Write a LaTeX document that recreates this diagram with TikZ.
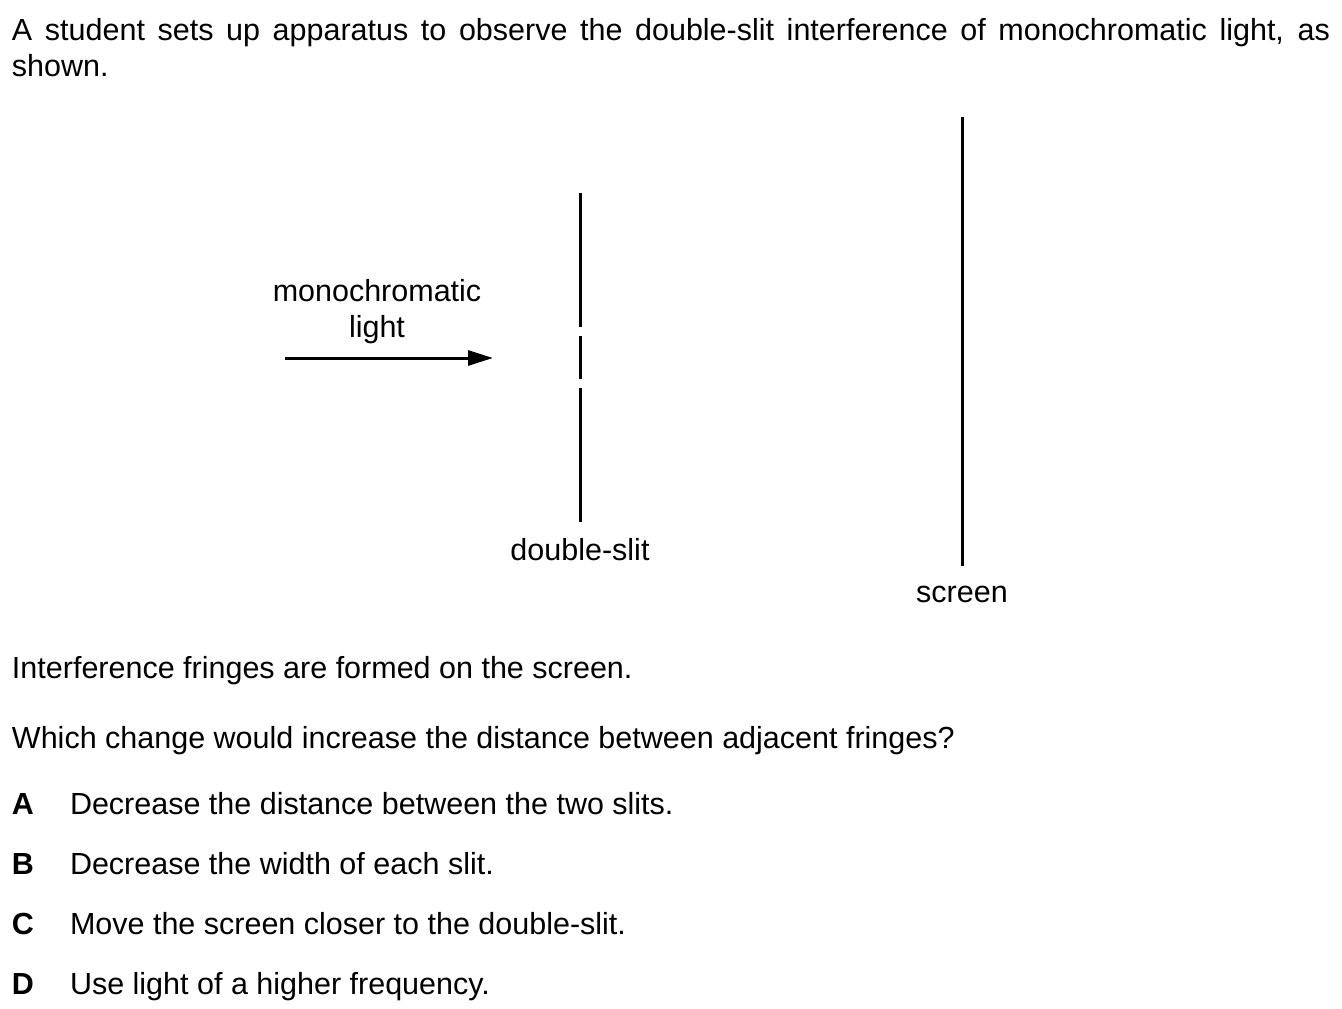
\documentclass[tikz,border=0pt]{standalone}
\usepackage{fontspec}
\setmainfont{Liberation Sans}
\usetikzlibrary{arrows.meta}
\tikzset{
  txt/.style={inner sep=0pt, outer sep=0pt, font=\fontsize{30.5}{36}\selectfont},
  lbl/.style={inner sep=0pt, outer sep=0pt, font=\fontsize{30.5}{36}\selectfont},
  barrier/.style={line width=3pt},
  ray/.style={line width=3pt, -{Triangle[length=25pt,width=15pt]}}
}
\begin{document}
\begin{tikzpicture}[x=1pt,y=-1pt]
\useasboundingbox (0,0) rectangle (1342,1009);
% question text
\node[txt, anchor=base west] (l1) at (12,40) {\makebox[1318pt][s]{A student sets up apparatus to observe the double-slit interference of monochromatic light, as}};
\node[txt, anchor=base west] (l2) at (12,76) {shown.};
% labels
\node[lbl, anchor=base] (mono) at (377,301) {monochromatic};
\node[lbl, anchor=base] (light) at (377,337) {light};
\node[lbl, anchor=base] (ds) at (580,560) {double-slit};
\node[lbl, anchor=base] (scr) at (962,602) {screen};
% arrow
\coordinate (a0) at (285,358);
\coordinate (a1) at (493,358);
\draw[ray] (a0) -- (a1);
% double slit
\draw[barrier] (580,193) -- (580,327);
\draw[barrier] (580,336) -- (580,379);
\draw[barrier] (580,388) -- (580,522);
% screen
\draw[barrier] (962,117) -- (962,566);
% remaining text
\node[txt, anchor=base west] (t1) at (12,678) {Interference fringes are formed on the screen.};
\node[txt, anchor=base west] (t2) at (12,748) {Which change would increase the distance between adjacent fringes?};
\node[txt, anchor=base west] (oA) at (12,814) {\textbf{A}};
\node[txt, anchor=base west] (dA) at (70,814) {Decrease the distance between the two slits.};
\node[txt, anchor=base west] (oB) at (12,874) {\textbf{B}};
\node[txt, anchor=base west] (dB) at (70,874) {Decrease the width of each slit.};
\node[txt, anchor=base west] (oC) at (12,934) {\textbf{C}};
\node[txt, anchor=base west] (dC) at (70,934) {Move the screen closer to the double-slit.};
\node[txt, anchor=base west] (oD) at (12,994) {\textbf{D}};
\node[txt, anchor=base west] (dD) at (70,994) {Use light of a higher frequency.};
\end{tikzpicture}
\end{document}
